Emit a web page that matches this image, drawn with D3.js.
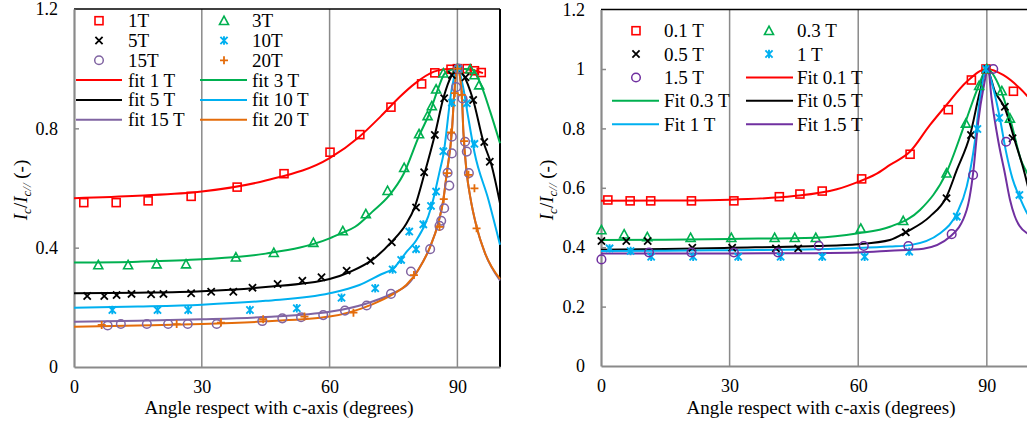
<!DOCTYPE html>
<html><head><meta charset="utf-8">
<script src="https://cdn.jsdelivr.net/npm/d3@7"></script>
<style>
html,body{margin:0;padding:0;background:#fff;}
svg{display:block;font-family:"Liberation Serif","Times New Roman",serif;}
svg text{font-family:"Liberation Serif","Times New Roman",serif;}
</style></head>
<body>
<svg id="chart" width="1027" height="426"></svg>
<script>
// ---------------- DATA ----------------
const xTicks = [0, 30, 60, 90];
const leftYTicks = [0, 0.4, 0.8, 1.2];
const rightYTicks = [0, 0.2, 0.4, 0.6, 0.8, 1, 1.2];
const xTitle = "Angle respect with c-axis (degrees)";

// Left panel markers
const L1T_d = [2.3, 9.9, 17.4, 27.5, 38.3, 49.3, 60.1, 67.1, 74.4, 81.6, 84.7, 88.5, 90, 92.3, 94, 95.6];
const L1T_v = [0.551, 0.551, 0.557, 0.572, 0.603, 0.648, 0.72, 0.779, 0.871, 0.949, 0.986, 0.998, 1.0, 1.0, 0.993, 0.987];
const L3T_d = [5.7, 12.7, 19.4, 26.3, 38, 46.9, 56.2, 63.1, 68.5, 73.6, 77.5, 81, 83, 84, 85, 86.7, 90, 93, 94, 95.1];
const L3T_v = [0.342, 0.342, 0.345, 0.345, 0.368, 0.383, 0.417, 0.456, 0.513, 0.591, 0.668, 0.781, 0.842, 0.875, 0.931, 0.985, 1.0, 0.998, 0.979, 0.945];
const L5T_d = [3.1, 7.1, 10, 13.5, 18.1, 21, 27.5, 32.2, 37.4, 41.9, 47.8, 53.6, 58.1, 64, 69.6, 74.6, 80.3, 82.2, 84.7, 86.9, 88.7, 90, 91.9, 93.7, 96.3, 97.6];
const L5T_v = [0.238, 0.238, 0.241, 0.245, 0.244, 0.245, 0.247, 0.252, 0.252, 0.266, 0.278, 0.289, 0.301, 0.323, 0.356, 0.418, 0.535, 0.653, 0.778, 0.901, 0.979, 1.0, 0.971, 0.895, 0.754, 0.688];
const L10T_d = [9, 19.6, 26.8, 41.3, 52.3, 62.8, 70.7, 74.8, 76.8, 78.7, 80.3, 82, 83.8, 85, 86.7, 88.7, 90.2, 92.2, 94];
const L10T_v = [0.191, 0.191, 0.191, 0.191, 0.197, 0.232, 0.264, 0.327, 0.359, 0.454, 0.395, 0.478, 0.54, 0.588, 0.723, 0.886, 1.0, 0.884, 0.748];
const L15T_d = [7.9, 11, 17.1, 22.1, 26.7, 33.5, 44.2, 48.9, 53.3, 58.5, 63.6, 68.7, 74.4, 79.1, 83.6, 85.8, 86.2, 86.9, 87.7, 88.1, 88.7, 88.7, 89.7, 90.2, 91.2, 91.8, 92.2, 92.7];
const L15T_v = [0.139, 0.144, 0.144, 0.144, 0.144, 0.144, 0.154, 0.163, 0.167, 0.174, 0.189, 0.206, 0.245, 0.32, 0.395, 0.473, 0.49, 0.532, 0.651, 0.608, 0.772, 0.716, 0.938, 1.0, 0.9, 0.755, 0.722, 0.65];
const L20T_d = [6.5, 24.1, 34.5, 44.4, 54.1, 65.6, 79.8, 85.8, 86.8, 87.6, 88.5, 89.4, 90, 91, 91.6, 92.6, 94, 94.5];
const L20T_v = [0.141, 0.144, 0.149, 0.16, 0.169, 0.182, 0.308, 0.47, 0.563, 0.65, 0.786, 0.918, 1.0, 0.912, 0.757, 0.644, 0.599, 0.465];

// Left panel fit curves
const LF1_d = [0, 15, 30, 45, 60, 67, 72, 76.5, 80, 84.5, 87, 90, 93, 96];
const LF1_v = [0.566, 0.574, 0.588, 0.625, 0.70, 0.772, 0.84, 0.906, 0.95, 0.99, 0.998, 1.0, 0.997, 0.985];
const LF3_d = [0, 15, 30, 45, 60, 63, 66, 70, 74, 77.3, 81, 83.6, 85.5, 87.1, 90, 93.4, 95.7, 97.7, 100];
const LF3_v = [0.350, 0.353, 0.361, 0.38, 0.431, 0.45, 0.47, 0.52, 0.575, 0.645, 0.775, 0.856, 0.934, 0.985, 1.0, 0.996, 0.94, 0.856, 0.75];
const LF5_d = [0, 15, 30, 45, 60, 65, 70, 74.6, 78, 80, 82.4, 84.7, 86.7, 88.7, 90, 91.4, 93.7, 96.1, 98, 100];
const LF5_v = [0.247, 0.249, 0.254, 0.268, 0.295, 0.32, 0.359, 0.42, 0.48, 0.537, 0.655, 0.778, 0.901, 0.979, 1.0, 0.979, 0.895, 0.755, 0.677, 0.549];
const LF10_d = [0, 15, 30, 45, 60, 67, 72, 75, 78, 80.4, 84, 85.9, 86.7, 88.7, 90, 91.4, 92.5, 94, 97.3, 100];
const LF10_v = [0.199, 0.203, 0.209, 0.222, 0.247, 0.275, 0.31, 0.331, 0.385, 0.426, 0.543, 0.66, 0.711, 0.934, 1.0, 0.934, 0.84, 0.72, 0.56, 0.41];
const LF15_d = [0, 15, 30, 45, 60, 68.7, 74.2, 78.9, 81, 83.6, 85.5, 86.7, 87.5, 88.7, 89.3, 90, 91, 91.4, 92.2, 93, 94.5, 96.5, 100];
const LF15_v = [0.152, 0.155, 0.16, 0.168, 0.185, 0.213, 0.243, 0.285, 0.33, 0.403, 0.482, 0.56, 0.649, 0.789, 0.923, 1.0, 0.923, 0.789, 0.649, 0.571, 0.47, 0.381, 0.29];
const LF20_d = [0, 15, 30, 45, 60, 70, 75, 78, 80.8, 83.6, 85.5, 86.7, 87.5, 88.7, 89.3, 90, 91, 91.4, 92.2, 93, 94.5, 96.5, 100];
const LF20_v = [0.135, 0.139, 0.144, 0.153, 0.169, 0.21, 0.245, 0.275, 0.325, 0.403, 0.482, 0.56, 0.649, 0.789, 0.923, 1.0, 0.923, 0.789, 0.649, 0.571, 0.47, 0.381, 0.295];

// Right panel markers
const R01_d = [1.6, 6.8, 11.6, 21.1, 31, 41.6, 46.4, 51.6, 60.8, 72.1, 81, 86.4, 89.8, 96.2];
const R01_v = [0.559, 0.556, 0.556, 0.556, 0.556, 0.57, 0.579, 0.589, 0.63, 0.713, 0.863, 0.963, 1.0, 0.925];
const R03_d = [0.1, 5.4, 10.8, 20.9, 30.4, 40.5, 45.2, 50.1, 60.6, 70.5, 80.6, 85.1, 88.2, 90, 93.5, 95.4];
const R03_v = [0.458, 0.444, 0.435, 0.432, 0.432, 0.432, 0.432, 0.432, 0.463, 0.489, 0.649, 0.817, 0.944, 1.0, 0.926, 0.834];
const R05_d = [0.1, 5.9, 10.9, 21.3, 30.6, 40.8, 46, 71.1, 80.6, 86.3, 90, 94.2, 96];
const R05_v = [0.421, 0.421, 0.421, 0.398, 0.398, 0.396, 0.396, 0.45, 0.565, 0.778, 1.0, 0.873, 0.767];
const R1_d = [2, 6.9, 11.7, 21.5, 32, 41.9, 51.6, 61.5, 71.9, 83, 87.8, 89.8, 92.9, 97.6];
const R1_v = [0.396, 0.387, 0.368, 0.368, 0.368, 0.368, 0.368, 0.368, 0.385, 0.503, 0.798, 1.0, 0.836, 0.576];
const R15_d = [0.1, 11.2, 21.1, 31, 41.3, 50.8, 61.3, 71.7, 81.8, 86.8, 91.5, 94.5];
const R15_v = [0.359, 0.382, 0.382, 0.382, 0.382, 0.405, 0.404, 0.404, 0.444, 0.643, 1.0, 0.755];

// Right panel fit curves
const RF01_d = [0, 15, 30, 45, 55, 60, 64, 67.4, 72.1, 76.7, 80.6, 85.3, 90, 93.8, 97.7, 100];
const RF01_v = [0.556, 0.557, 0.56, 0.572, 0.595, 0.62, 0.645, 0.677, 0.722, 0.811, 0.879, 0.957, 1.0, 0.98, 0.935, 0.9];
const RF03_d = [0, 15, 30, 50, 60, 67.4, 74.4, 80.6, 84.9, 88, 90, 93.1, 95.4, 98.1, 99.4, 100];
const RF03_v = [0.424, 0.425, 0.428, 0.432, 0.447, 0.469, 0.525, 0.652, 0.817, 0.94, 1.0, 0.935, 0.834, 0.688, 0.65, 0.63];
const RF05_d = [0, 15, 30, 50, 60, 67.4, 71.3, 76.7, 80.6, 83, 86.1, 88.4, 90, 91.9, 94.2, 96.6, 98.5, 100];
const RF05_v = [0.391, 0.394, 0.398, 0.404, 0.41, 0.424, 0.452, 0.503, 0.57, 0.66, 0.778, 0.924, 1.0, 0.924, 0.868, 0.755, 0.666, 0.58];
const RF1_d = [0, 15, 30, 50, 60, 67.4, 72.1, 79.1, 83, 85.3, 87.2, 88.4, 90, 91.5, 93.1, 94.5, 96, 97.6, 99.4, 100];
const RF1_v = [0.387, 0.388, 0.39, 0.393, 0.397, 0.402, 0.407, 0.447, 0.514, 0.604, 0.755, 0.901, 1.0, 0.935, 0.83, 0.72, 0.63, 0.57, 0.514, 0.5];
const RF15_d = [0, 15, 30, 50, 60, 67.4, 75.2, 81.4, 85.3, 86.8, 88, 89.2, 90.3, 91.1, 92.7, 94.2, 95.4, 96.5, 97.6, 99.4, 100];
const RF15_v = [0.379, 0.379, 0.379, 0.38, 0.382, 0.388, 0.395, 0.435, 0.525, 0.649, 0.823, 0.935, 1.0, 0.901, 0.755, 0.649, 0.56, 0.505, 0.472, 0.447, 0.442];

// ---------------- DRAWING ----------------
const FONT = "Liberation Serif, Times New Roman, serif";
const svg = d3.select("#chart");
const C = {red:"#ff0000", green:"#00b050", black:"#000000", blue:"#00b0f0", lpurple:"#8064a2", purple:"#7030a0", orange:"#e46c0a"};
const FS = 19;

function zip(d, v){ return d.map((x,i)=>({d:x, v:v[i]})); }

function drawMarker(g, shape, color, x, y){
  const s = 4;
  if(shape==="square"){
    g.append("rect").attr("x",x-s).attr("y",y-s).attr("width",2*s).attr("height",2*s)
      .attr("fill","none").attr("stroke",color).attr("stroke-width",1.6);
  } else if(shape==="triangle"){
    g.append("path").attr("d",`M${x},${y-4.5}L${x+4.5},${y+3.8}L${x-4.5},${y+3.8}Z`)
      .attr("fill","none").attr("stroke",color).attr("stroke-width",1.6);
  } else if(shape==="circle"){
    g.append("circle").attr("cx",x).attr("cy",y).attr("r",4.3)
      .attr("fill","none").attr("stroke",color).attr("stroke-width",1.5);
  } else if(shape==="x"){
    g.append("path").attr("d",`M${x-3.6},${y-3.6}L${x+3.6},${y+3.6}M${x-3.6},${y+3.6}L${x+3.6},${y-3.6}`)
      .attr("stroke",color).attr("stroke-width",1.8);
  } else if(shape==="star"){
    g.append("path").attr("d",`M${x-3.6},${y-3.6}L${x+3.6},${y+3.6}M${x-3.6},${y+3.6}L${x+3.6},${y-3.6}M${x},${y-4.2}L${x},${y+4.2}`)
      .attr("stroke",color).attr("stroke-width",1.9);
  } else if(shape==="plus"){
    g.append("path").attr("d",`M${x-4},${y}L${x+4},${y}M${x},${y-4}L${x},${y+4}`)
      .attr("stroke",color).attr("stroke-width",1.8);
  }
}

function yLabel(x, y){
  const t = svg.append("text").attr("transform",`translate(${x},${y}) rotate(-90)`)
    .attr("text-anchor","middle").attr("font-size",FS).attr("font-family",FONT).attr("fill","#000");
  t.append("tspan").attr("font-style","italic").text("I");
  t.append("tspan").attr("font-style","italic").attr("font-size",13).attr("dy",4).text("c");
  t.append("tspan").attr("dy",-4).text("/");
  t.append("tspan").attr("font-style","italic").text("I");
  t.append("tspan").attr("font-style","italic").attr("font-size",13).attr("dy",4).text("c//");
  t.append("tspan").attr("dy",-4).text(" (-)");
}

function panel(cfg){
  const x = d3.scaleLinear().domain([0,100]).range(cfg.xr);
  const y = d3.scaleLinear().domain([0,1.2]).range(cfg.yr);
  const g = svg.append("g");
  // gridlines
  g.selectAll("line.grid").data([30,60,90]).enter().append("line")
    .attr("x1",d=>x(d)).attr("x2",d=>x(d)).attr("y1",y(0)).attr("y2",y(1.2))
    .attr("stroke","#8a8a8a").attr("stroke-width",1.5);
  // top and right border
  g.append("line").attr("x1",x(0)).attr("x2",x(100)).attr("y1",y(1.2)).attr("y2",y(1.2)).attr("stroke","#000").attr("stroke-width",1.5);
  g.append("line").attr("x1",x(100)).attr("x2",x(100)).attr("y1",y(1.2)).attr("y2",y(0)).attr("stroke","#000").attr("stroke-width",2);
  // axes
  const ax = g.append("g").attr("transform",`translate(0,${y(0)})`)
    .call(d3.axisBottom(x).tickValues(xTicks).tickSize(0).tickPadding(13).tickFormat(d=>d));
  const ay = g.append("g").attr("transform",`translate(${x(0)},0)`)
    .call(d3.axisLeft(y).tickValues(cfg.yticks).tickSizeInner(-5).tickSizeOuter(0).tickPadding(16).tickFormat(d=>String(+d.toFixed(1))));
  [ax, ay].forEach(a=>{
    a.attr("font-family",FONT).attr("font-size",18);
    a.select(".domain").attr("stroke","#8a8a8a").attr("stroke-width",2.2);
    a.selectAll(".tick line").attr("stroke","#8a8a8a").attr("stroke-width",1.5);
    a.selectAll("text").attr("font-family",FONT).attr("font-size",18).attr("fill","#000");
  });
  ay.selectAll(".tick").filter(d=>d===0 || d===1.2).select("line").remove();
  // fit lines
  const line = d3.line().x(p=>x(p.d)).y(p=>y(p.v)).curve(d3.curveMonotoneX);
  cfg.fits.forEach(f=>{
    g.append("path").attr("d",line(zip(f.d,f.v))).attr("fill","none")
      .attr("stroke",f.color).attr("stroke-width",2);
  });
  // markers
  cfg.marks.forEach(m=>{
    const mg = g.append("g");
    zip(m.d,m.v).forEach(p=>drawMarker(mg, m.shape, m.color, x(p.d), y(p.v)));
  });
  // legend
  const lg = svg.append("g");
  cfg.legend.forEach(it=>{
    if(it.shape) drawMarker(lg, it.shape, it.color, it.mx, it.y);
    else lg.append("line").attr("x1",it.l1).attr("x2",it.l2).attr("y1",it.y).attr("y2",it.y)
      .attr("stroke",it.color).attr("stroke-width",2);
    lg.append("text").attr("x",it.tx).attr("y",it.y+6.5).attr("font-size",FS).attr("font-family",FONT)
      .attr("fill","#000").text(it.label);
  });
  // x title
  svg.append("text").attr("x",cfg.titleX).attr("y",414).attr("text-anchor","middle")
    .attr("font-size",FS).attr("font-family",FONT).attr("fill","#000").text(xTitle);
  yLabel(cfg.ylabX, 190);
}

// Left panel
const lRows = [20.7, 40.5, 60.3, 80.1, 99.9, 119.7];
panel({
  xr:[74, 500], yr:[367, 9], yticks:leftYTicks, titleX:279, ylabX:27,
  fits:[
    {d:LF1_d, v:LF1_v, color:C.red},
    {d:LF3_d, v:LF3_v, color:C.green},
    {d:LF5_d, v:LF5_v, color:C.black},
    {d:LF10_d, v:LF10_v, color:C.blue},
    {d:LF15_d, v:LF15_v, color:C.lpurple},
    {d:LF20_d, v:LF20_v, color:C.orange}
  ],
  marks:[
    {d:L1T_d, v:L1T_v, shape:"square", color:C.red},
    {d:L3T_d, v:L3T_v, shape:"triangle", color:C.green},
    {d:L5T_d, v:L5T_v, shape:"x", color:C.black},
    {d:L10T_d, v:L10T_v, shape:"star", color:C.blue},
    {d:L15T_d, v:L15T_v, shape:"circle", color:C.lpurple},
    {d:L20T_d, v:L20T_v, shape:"plus", color:C.orange}
  ],
  legend:[
    {shape:"square", color:C.red, mx:99, tx:128, y:lRows[0], label:"1T"},
    {shape:"triangle", color:C.green, mx:224, tx:252, y:lRows[0], label:"3T"},
    {shape:"x", color:C.black, mx:99, tx:128, y:lRows[1], label:"5T"},
    {shape:"star", color:C.blue, mx:224, tx:252, y:lRows[1], label:"10T"},
    {shape:"circle", color:C.lpurple, mx:99, tx:128, y:lRows[2], label:"15T"},
    {shape:"plus", color:C.orange, mx:224, tx:252, y:lRows[2], label:"20T"},
    {color:C.red, l1:76, l2:122, tx:128, y:lRows[3], label:"fit 1 T"},
    {color:C.green, l1:200, l2:247, tx:252, y:lRows[3], label:"fit 3 T"},
    {color:C.black, l1:76, l2:122, tx:128, y:lRows[4], label:"fit 5 T"},
    {color:C.blue, l1:200, l2:247, tx:252, y:lRows[4], label:"fit 10 T"},
    {color:C.lpurple, l1:76, l2:122, tx:128, y:lRows[5], label:"fit 15 T"},
    {color:C.orange, l1:200, l2:247, tx:252, y:lRows[5], label:"fit 20 T"}
  ]
});

// Right panel
const rRows = [30.7, 54, 77.5, 100.8, 124.2];
panel({
  xr:[601, 1029.7], yr:[366, 9.6], yticks:rightYTicks, titleX:821, ylabX:553,
  fits:[
    {d:RF01_d, v:RF01_v, color:C.red},
    {d:RF03_d, v:RF03_v, color:C.green},
    {d:RF05_d, v:RF05_v, color:C.black},
    {d:RF1_d, v:RF1_v, color:C.blue},
    {d:RF15_d, v:RF15_v, color:C.purple}
  ],
  marks:[
    {d:R01_d, v:R01_v, shape:"square", color:C.red},
    {d:R03_d, v:R03_v, shape:"triangle", color:C.green},
    {d:R05_d, v:R05_v, shape:"x", color:C.black},
    {d:R1_d, v:R1_v, shape:"star", color:C.blue},
    {d:R15_d, v:R15_v, shape:"circle", color:C.purple}
  ],
  legend:[
    {shape:"square", color:C.red, mx:636, tx:664, y:rRows[0], label:"0.1 T"},
    {shape:"triangle", color:C.green, mx:769, tx:797, y:rRows[0], label:"0.3 T"},
    {shape:"x", color:C.black, mx:636, tx:664, y:rRows[1], label:"0.5 T"},
    {shape:"star", color:C.blue, mx:769, tx:797, y:rRows[1], label:"1 T"},
    {shape:"circle", color:C.purple, mx:636, tx:664, y:rRows[2], label:"1.5 T"},
    {color:C.red, l1:746, l2:793, tx:797, y:rRows[2], label:"Fit 0.1 T"},
    {color:C.green, l1:612, l2:659, tx:664, y:rRows[3], label:"Fit 0.3 T"},
    {color:C.black, l1:746, l2:793, tx:797, y:rRows[3], label:"Fit 0.5 T"},
    {color:C.blue, l1:612, l2:659, tx:664, y:rRows[4], label:"Fit 1 T"},
    {color:C.purple, l1:746, l2:793, tx:797, y:rRows[4], label:"Fit 1.5 T"}
  ]
});
</script>
</body></html>
